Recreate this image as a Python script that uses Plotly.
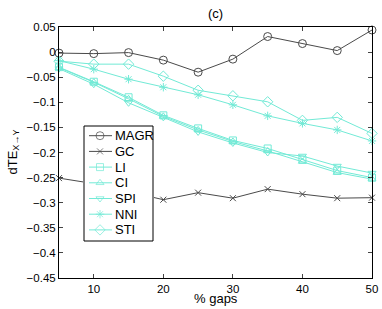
import plotly.graph_objects as go

x_gaps = [5, 10, 15, 20, 25, 30, 35, 40, 45, 50]
MAGR = [-0.002, -0.003, -0.001, -0.016, -0.040, -0.014, 0.031, 0.017, 0.003, 0.044]
GC = [-0.251, -0.262, -0.278, -0.294, -0.280, -0.291, -0.273, -0.283, -0.291, -0.290]
LI = [-0.030, -0.059, -0.090, -0.126, -0.152, -0.176, -0.192, -0.214, -0.236, -0.250]
CI = [-0.031, -0.060, -0.093, -0.128, -0.155, -0.178, -0.197, -0.218, -0.240, -0.253]
SPI = [-0.033, -0.064, -0.101, -0.130, -0.159, -0.181, -0.200, -0.207, -0.227, -0.241]
NNI = [-0.017, -0.034, -0.054, -0.070, -0.085, -0.105, -0.127, -0.142, -0.155, -0.177]
STI = [-0.018, -0.024, -0.024, -0.048, -0.076, -0.087, -0.099, -0.136, -0.130, -0.162]

y_ticks = [0.05, 0, -0.05, -0.1, -0.15, -0.2, -0.25, -0.3, -0.35, -0.4, -0.45]
y_tick_text = ["0.05", "0", "\u22120.05", "\u22120.1", "\u22120.15", "\u22120.2", "\u22120.25",
               "\u22120.3", "\u22120.35", "\u22120.4", "\u22120.45"]
x_ticks = [10, 20, 30, 40, 50]

dark = "#4a4a4a"
cyan = "#72ead6"

series = [
    ("MAGR", MAGR, dark, "circle-open", 8),
    ("GC", GC, dark, "x-thin-open", 6),
    ("LI", LI, cyan, "square-open", 7),
    ("CI", CI, cyan, "triangle-up-open", 7),
    ("SPI", SPI, cyan, "triangle-down-open", 7),
    ("NNI", NNI, cyan, "asterisk-open", 7),
    ("STI", STI, cyan, "diamond-open", 8),
]

W, H = 382, 309
L, R, T, B = 59, 372, 27, 278  # plot area in pixels

fig = go.Figure()
for name, vals, col, sym, sz in series:
    fig.add_trace(go.Scatter(
        x=x_gaps, y=vals, name=name, mode="lines+markers",
        line=dict(color=col, width=1),
        marker=dict(symbol=sym, size=sz, color=col, line=dict(color=col, width=1)),
        showlegend=False, cliponaxis=False, xaxis="x", yaxis="y",
    ))

# ---- legend drawn in a small inset subplot (pixel coordinates) ----
LG_L, LG_R, LG_T, LG_B = 84, 153, 126, 241
row0, row_gap = 135.7, 15.7
sw_x0, sw_xm, sw_x1, txt_x = 89, 100, 112, 113

fig.add_trace(go.Scatter(
    x=[LG_L, LG_R, LG_R, LG_L, LG_L], y=[LG_T, LG_T, LG_B, LG_B, LG_T],
    mode="lines", fill="toself", fillcolor="white",
    line=dict(color="black", width=1), showlegend=False, hoverinfo="skip",
    xaxis="x2", yaxis="y2"))
annotations = []
for i, (name, vals, col, sym, sz) in enumerate(series):
    ry = row0 + i * row_gap
    fig.add_trace(go.Scatter(
        x=[sw_x0, sw_xm, sw_x1], y=[ry, ry, ry], mode="lines+markers",
        line=dict(color=col, width=1),
        marker=dict(symbol=sym, size=[0, sz, 0], color=col, line=dict(color=col, width=1)),
        showlegend=False, hoverinfo="skip", xaxis="x2", yaxis="y2"))
    annotations.append(dict(x=txt_x, y=ry, xref="x2", yref="y2", text=name,
                            showarrow=False, xanchor="left", yanchor="middle",
                            font=dict(size=13, color="black")))

PW, PH = R - L, B - T
annotations.append(dict(x=0.5, y=-(298 - B) / PH, xref="paper", yref="paper",
                        text="% gaps", showarrow=False, xanchor="center", yanchor="middle",
                        font=dict(size=13, color="black")))
annotations.append(dict(x=-(L - 13) / PW, y=0.5, xref="paper", yref="paper",
                        text="dTE<sub>X\u2192Y</sub>", textangle=-90, showarrow=False,
                        xanchor="center", yanchor="middle",
                        font=dict(size=13, color="black")))
annotations.append(dict(x=0.5, y=1 + (T - 13) / PH, xref="paper", yref="paper",
                        text="(c)", showarrow=False, xanchor="center", yanchor="middle",
                        font=dict(size=13, color="black")))

font = dict(family="Liberation Sans, Arial, sans-serif", size=11.5, color="black")
fig.update_layout(
    width=W, height=H,
    margin=dict(l=L, r=W - R, t=T, b=H - B, autoexpand=False),
    paper_bgcolor="white", plot_bgcolor="white",
    font=font,
    showlegend=False,
    annotations=annotations,
    xaxis=dict(range=[5, 50], tickvals=x_ticks, ticks="inside", ticklen=4,
               showline=True, linecolor="black", linewidth=1, mirror="ticks",
               showgrid=False, zeroline=False, domain=[0, 1]),
    yaxis=dict(range=[-0.45, 0.05], tickvals=y_ticks, ticktext=y_tick_text,
               ticks="inside", ticklen=4,
               showline=True, linecolor="black", linewidth=1, mirror="ticks",
               showgrid=False, zeroline=False, domain=[0, 1]),
    xaxis2=dict(domain=[(LG_L - 1 - L) / PW, (LG_R + 1 - L) / PW],
                range=[LG_L - 1, LG_R + 1], visible=False, anchor="y2"),
    yaxis2=dict(domain=[(B - (LG_B + 1)) / PH, (B - (LG_T - 1)) / PH],
                range=[LG_B + 1, LG_T - 1], visible=False, anchor="x2"),
)

# remove the browser's default 8px page margin so the figure sits at the corner
fig.write_html("out.html", config={"displayModeBar": False},
               post_script="document.body.style.margin='0px';")
